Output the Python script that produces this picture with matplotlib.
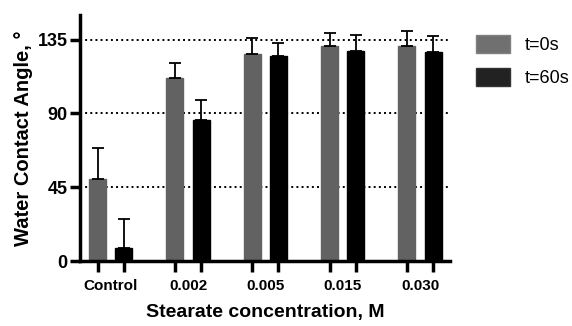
import numpy as np
import matplotlib.pyplot as plt

plt.rcParams['font.family'] = ['Liberation Sans', 'DejaVu Sans']

# data
groups = ['Control', '0.002', '0.005', '0.015', '0.030']
angle_t0 = [50, 111.5, 126.3, 131.4, 131]
err_t0 = [19, 9.3, 9.5, 7.7, 9.5]
angle_t60 = [8.3, 85.8, 124.9, 128.2, 127.3]
err_t60 = [17.4, 12.3, 8.3, 9.8, 10.2]

x = np.arange(len(groups))
off = 0.169
w = 0.22

fig = plt.figure(figsize=(5.72, 3.26), dpi=100)
ax = fig.add_axes([0.14, 0.199, 0.647, 0.755])

for yv in [45, 90, 135]:
    ax.axhline(yv, color='black', linestyle=':', linewidth=1.4, zorder=0)

ax.bar(x - off, angle_t0, w, color='#626262', edgecolor='#626262', zorder=2, label='t=0s')
ax.bar(x + off, angle_t60, w, color='black', edgecolor='black', zorder=2, label='t=60s')
ax.errorbar(x - off, angle_t0, yerr=[np.zeros(len(x)), err_t0], fmt='none',
            ecolor='black', elinewidth=1.3, capsize=4, capthick=1.3, zorder=3)
ax.errorbar(x + off, angle_t60, yerr=[np.zeros(len(x)), err_t60], fmt='none',
            ecolor='black', elinewidth=1.3, capsize=4, capthick=1.3, zorder=3)

ax.set_xlim(-0.396, 4.39)
ax.set_ylim(0, 150)
ax.set_yticks([0, 45, 90, 135])
ax.set_yticklabels(['0', '45', '90', '135'], fontsize=13, fontweight='bold')

# ticks under each bar, labels centred under groups
ax.set_xticks(np.concatenate([x - off, x + off]))
ax.set_xticklabels([])
ax.set_xticks(x, minor=True)
ax.set_xticklabels(groups, minor=True, fontsize=11, fontweight='bold')
ax.tick_params(axis='x', which='major', length=8, width=2.5, direction='out')
ax.tick_params(axis='x', which='minor', length=0, pad=13)
ax.tick_params(axis='y', length=7, width=2.5, direction='out', pad=2)

for s in ['top', 'right']:
    ax.spines[s].set_visible(False)
for s in ['left', 'bottom']:
    ax.spines[s].set_linewidth(2.5)

ax.set_ylabel('Water Contact Angle, °', fontsize=14.5, fontweight='bold', labelpad=3)
ax.set_xlabel('Stearate concentration, M', fontsize=14, fontweight='bold', labelpad=8)

leg = ax.legend(loc='upper left', bbox_to_anchor=(1.025, 0.985), frameon=False,
                fontsize=13, handlelength=1.9, handleheight=1.15, labelspacing=0.76,
                handletextpad=0.8)
leg.legend_handles[0].set_facecolor('#707070')
leg.legend_handles[0].set_edgecolor('#808080')
leg.legend_handles[1].set_facecolor('#222222')
leg.legend_handles[1].set_edgecolor('#333333')

fig.savefig('out.png', dpi=100)
